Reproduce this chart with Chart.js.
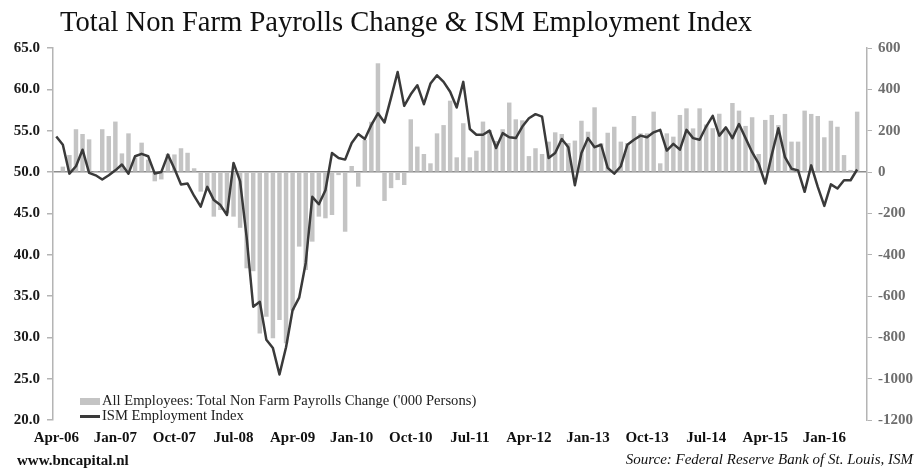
<!DOCTYPE html>
<html>
<head>
<meta charset="utf-8">
<script src="https://cdn.jsdelivr.net/npm/chart.js@4.4.1/dist/chart.umd.min.js"></script>
<style>
  body { margin: 0; background: #fff; }
  #wrap { position: relative; width: 924px; height: 474px; font-family: 'Liberation Serif', 'DejaVu Serif', serif; }
  #payrollChart { position: absolute; left: 0; top: 0; }
  #title { position: absolute; left: 60px; top: 4px; font-size: 28.6px; line-height: 36px; color: #111; white-space: nowrap; }
  #legend { position: absolute; left: 80px; top: 393px; font-size: 14.6px; color: #222; }
  #legend .item { height: 15px; line-height: 15px; white-space: nowrap; }
  #legend .swatch { display: inline-block; width: 20px; vertical-align: middle; margin-right: 2px; }
  #site { position: absolute; left: 17px; top: 452px; font-size: 15px; font-weight: bold; color: #111; }
  #source { position: absolute; right: 11px; top: 451px; font-size: 15px; font-style: italic; color: #111; }
</style>
</head>
<body>
<div id="wrap">
  <canvas id="payrollChart" width="924" height="474"></canvas>
  <div id="title">Total Non Farm Payrolls Change &amp; ISM Employment Index</div>
  <div id="legend"></div>
  <div id="site">www.bncapital.nl</div>
  <div id="source">Source: Federal Reserve Bank of St. Louis, ISM</div>
</div>
<script>
const months = [
  'Apr-06', 'May-06', 'Jun-06', 'Jul-06', 'Aug-06', 'Sep-06', 'Oct-06', 'Nov-06', 'Dec-06',
  'Jan-07', 'Feb-07', 'Mar-07', 'Apr-07', 'May-07', 'Jun-07', 'Jul-07', 'Aug-07', 'Sep-07', 'Oct-07', 'Nov-07', 'Dec-07',
  'Jan-08', 'Feb-08', 'Mar-08', 'Apr-08', 'May-08', 'Jun-08', 'Jul-08', 'Aug-08', 'Sep-08', 'Oct-08', 'Nov-08', 'Dec-08',
  'Jan-09', 'Feb-09', 'Mar-09', 'Apr-09', 'May-09', 'Jun-09', 'Jul-09', 'Aug-09', 'Sep-09', 'Oct-09', 'Nov-09', 'Dec-09',
  'Jan-10', 'Feb-10', 'Mar-10', 'Apr-10', 'May-10', 'Jun-10', 'Jul-10', 'Aug-10', 'Sep-10', 'Oct-10', 'Nov-10', 'Dec-10',
  'Jan-11', 'Feb-11', 'Mar-11', 'Apr-11', 'May-11', 'Jun-11', 'Jul-11', 'Aug-11', 'Sep-11', 'Oct-11', 'Nov-11', 'Dec-11',
  'Jan-12', 'Feb-12', 'Mar-12', 'Apr-12', 'May-12', 'Jun-12', 'Jul-12', 'Aug-12', 'Sep-12', 'Oct-12', 'Nov-12', 'Dec-12',
  'Jan-13', 'Feb-13', 'Mar-13', 'Apr-13', 'May-13', 'Jun-13', 'Jul-13', 'Aug-13', 'Sep-13', 'Oct-13', 'Nov-13', 'Dec-13',
  'Jan-14', 'Feb-14', 'Mar-14', 'Apr-14', 'May-14', 'Jun-14', 'Jul-14', 'Aug-14', 'Sep-14', 'Oct-14', 'Nov-14', 'Dec-14',
  'Jan-15', 'Feb-15', 'Mar-15', 'Apr-15', 'May-15', 'Jun-15', 'Jul-15', 'Aug-15', 'Sep-15', 'Oct-15', 'Nov-15', 'Dec-15',
  'Jan-16', 'Feb-16', 'Mar-16', 'Apr-16', 'May-16', 'Jun-16', 'Jul-16'
];

// monthly change, '000 persons (right axis)
const payrollChange = [
  null, 26, 82, 207, 184, 158, 5, 207, 174,
  244, 90, 187, 70, 142, 60, -45, -36, 88, 85, 115, 93,
  18, -95, -88, -216, -184, -200, -216, -270, -466, -480, -781, -700,
  -805, -716, -829, -670, -361, -474, -337, -216, -224, -208, -15, -289,
  29, -71, 155, 243, 526, -140, -78, -39, -63, 255, 123, 87,
  42, 187, 227, 345, 71, 236, 71, 103, 244, 203, 150, 207,
  336, 255, 250, 77, 115, 87, 147, 192, 184, 140, 152, 248,
  195, 313, 139, 190, 219, 147, 140, 271, 187, 187, 292, 42,
  187, 171, 276, 308, 211, 308, 230, 212, 282, 205, 334, 297,
  223, 265, 87, 252, 276, 227, 281, 147, 147, 297, 281, 271,
  168, 248, 219, 82, 10, 292, null
];

// ISM manufacturing employment index (left axis)
const ismEmployment = [
  54.3, 53.3, 49.8, 50.7, 52.7, 49.9, 49.6, 49.1, 49.6,
  50.2, 50.9, 49.8, 51.9, 52.2, 51.9, 49.8, 50.0, 52.1, 50.4, 48.5, 48.6,
  47.1, 45.8, 48.2, 46.6, 46.0, 44.8, 51.1, 48.9, 42.1, 33.7, 34.3, 29.7,
  28.7, 25.5, 28.8, 33.3, 34.8, 39.0, 47.0, 46.1, 47.8, 52.3, 51.7, 51.5,
  53.5, 54.6, 54.0, 55.7, 57.1, 56.0, 59.0, 62.1, 58.0, 59.4, 60.5, 58.2,
  60.7, 61.7, 60.9, 59.7, 57.8, 60.9, 55.2, 54.5, 54.5, 55.0, 52.9, 54.7,
  54.2, 54.1, 55.5, 56.5, 57.0, 56.7, 51.7, 52.3, 54.0, 53.0, 48.4, 52.3,
  54.1, 53.0, 53.3, 50.5, 49.8, 50.7, 53.3, 53.9, 54.4, 54.2, 54.8, 55.1,
  52.6, 53.4, 52.7, 55.1, 54.1, 53.9, 55.5, 56.8, 54.4, 55.4, 54.1, 55.8,
  54.1, 52.4, 51.0, 48.6, 52.1, 55.3, 51.8, 50.4, 50.2, 47.6, 50.8, 48.2,
  45.9, 48.5, 48.0, 49.0, 49.0, 50.3, null
];

const xTickLabels = ['Apr-06', 'Jan-07', 'Oct-07', 'Jul-08', 'Apr-09', 'Jan-10', 'Oct-10',
  'Jul-11', 'Apr-12', 'Jan-13', 'Oct-13', 'Jul-14', 'Apr-15', 'Jan-16'];

const barColor = '#c4c4c4';
const lineColor = '#3a3a3a';
const axisColor = '#b4b4b4';
const tickFont = { family: 'Liberation Serif', size: 15, weight: 'bold' };

const ctx = document.getElementById('payrollChart');

const chart = new Chart(ctx, {
  type: 'bar',
  data: {
    labels: months,
    datasets: [{
      type: 'bar',
      label: "All Employees: Total Non Farm Payrolls Change ('000 Persons)",
      data: payrollChange,
      yAxisID: 'y1',
      backgroundColor: barColor,
      barPercentage: 0.68,
      categoryPercentage: 1,
      order: 1
    }, {
      type: 'line',
      label: 'ISM Employment Index',
      data: ismEmployment,
      yAxisID: 'y',
      borderColor: lineColor,
      borderWidth: 2.5,
      borderJoinStyle: 'round',
      pointRadius: 0,
      tension: 0,
      order: 0
    }]
  },
  options: {
    responsive: false,
    animation: false,
    layout: { padding: { top: 48, bottom: 26, left: 0, right: 0 } },
    plugins: {
      legend: { display: false },
      tooltip: { enabled: false }
    },
    scales: {
      x: {
        offset: true,
        grid: { display: false, drawTicks: false },
        border: { display: false },
        ticks: {
          autoSkip: false,
          maxRotation: 0,
          minRotation: 0,
          padding: 9,
          color: '#111',
          font: tickFont,
          callback: function (value) {
            const label = this.getLabelForValue(value);
            return xTickLabels.includes(label) ? label : '';
          }
        },
        afterFit: scale => { scale.height = 28; }
      },
      y: {
        position: 'left',
        min: 20,
        max: 65,
        ticks: {
          stepSize: 5,
          padding: 7,
          color: '#1a1a1a',
          font: tickFont,
          callback: v => v.toFixed(1)
        },
        grid: {
          color: c => (c.tick && c.tick.value === 50) ? '#8c8c8c' : 'rgba(0,0,0,0)',
          lineWidth: 1.5,
          tickColor: axisColor,
          tickLength: 6
        },
        border: { color: axisColor, width: 1.5 },
        afterFit: scale => { scale.width = 53; }
      },
      y1: {
        position: 'right',
        min: -1200,
        max: 600,
        ticks: {
          stepSize: 200,
          padding: 6,
          color: '#6e6e6e',
          font: tickFont,
          callback: v => String(v)
        },
        grid: { drawOnChartArea: false, tickColor: axisColor, tickLength: 5 },
        border: { color: axisColor, width: 1.5 },
        afterFit: scale => { scale.width = 57; }
      }
    }
  }
});

// legend as html, built from the datasets
const legendBox = document.getElementById('legend');
chart.data.datasets.forEach(ds => {
  const item = document.createElement('div');
  item.className = 'item';
  const sw = document.createElement('span');
  sw.className = 'swatch';
  if (ds.type === 'bar') {
    sw.style.height = '7px';
    sw.style.background = ds.backgroundColor;
  } else {
    sw.style.height = '3px';
    sw.style.background = ds.borderColor;
  }
  item.appendChild(sw);
  item.appendChild(document.createTextNode(ds.label));
  legendBox.appendChild(item);
});
</script>
</body>
</html>
